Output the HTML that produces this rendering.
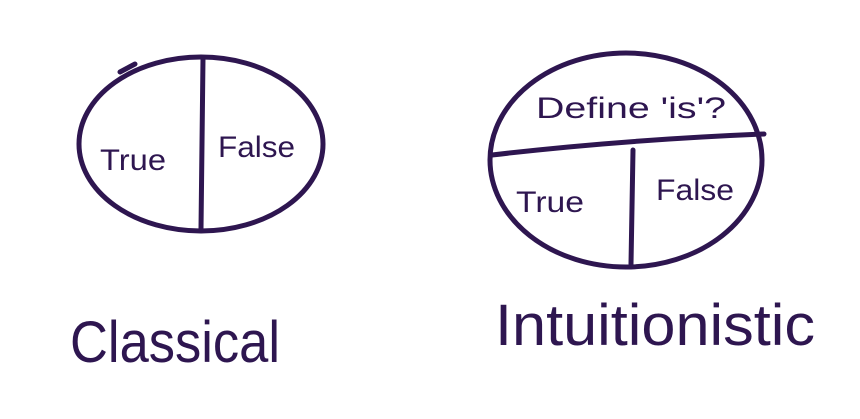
<!DOCTYPE html>
<html><head><style>
body{margin:0;background:#fff}
svg{display:block}
text{font-family:"Liberation Sans",sans-serif;fill:#2e1650}
</style></head><body>
<svg width="860" height="419" viewBox="0 0 860 419">
<g fill="none" stroke="#2e1650" stroke-width="5" stroke-linecap="round">
<ellipse cx="201" cy="144" rx="122" ry="87"/>
<path d="M120 72 L135 64"/>
<line x1="203" y1="58" x2="201" y2="229"/>
<ellipse cx="626" cy="160" rx="136" ry="107"/>
<path d="M492 155 Q620 140 764 134"/>
<line x1="633" y1="150" x2="631" y2="264"/>
</g>
<text x="100" y="170" font-size="30" textLength="66" lengthAdjust="spacingAndGlyphs">True</text>
<text x="218" y="157" font-size="30" textLength="77" lengthAdjust="spacingAndGlyphs">False</text>
<text x="536" y="118" font-size="30" textLength="190" lengthAdjust="spacingAndGlyphs">Define 'is'?</text>
<text x="516" y="212" font-size="30" textLength="68" lengthAdjust="spacingAndGlyphs">True</text>
<text x="656" y="200" font-size="30" textLength="78" lengthAdjust="spacingAndGlyphs">False</text>
<text x="70" y="362" font-size="58" font-weight="300" textLength="210" lengthAdjust="spacingAndGlyphs">Classical</text>
<text x="495" y="345" font-size="58" textLength="320" lengthAdjust="spacingAndGlyphs">Intuitionistic</text>
</svg>
</body></html>
